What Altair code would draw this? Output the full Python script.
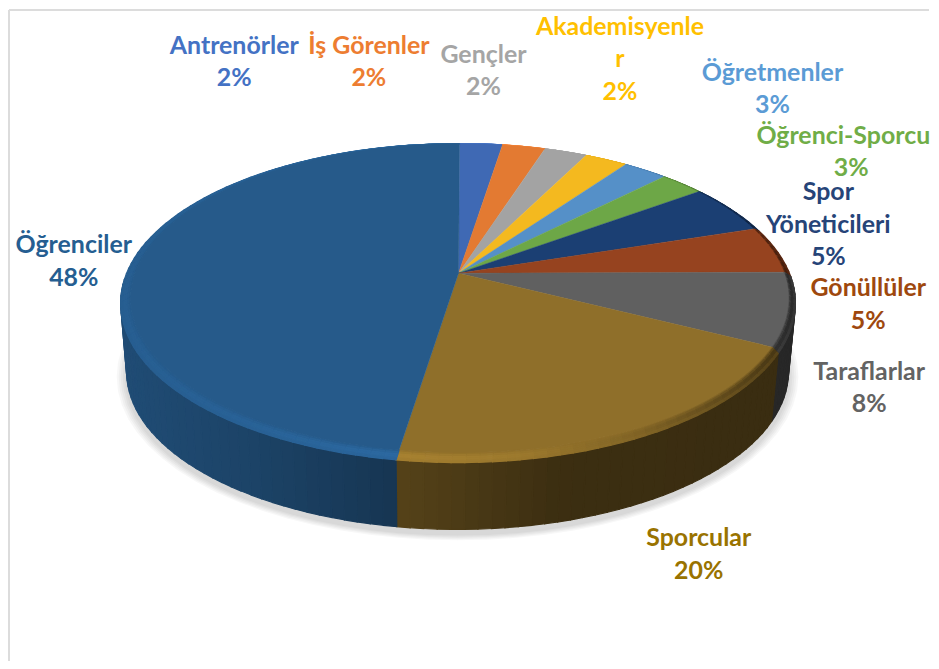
import math
import numpy as np
import pandas as pd
import altair as alt

alt.data_transformers.disable_max_rows()

# ---- data ----
categories = ["Antrenörler", "İş Görenler", "Gençler", "Akademisyenler", "Öğretmenler",
              "Öğrenci-Sporcu", "Spor Yöneticileri", "Gönüllüler", "Taraflarlar", "Sporcular", "Öğrenciler"]
values = [2.45, 2.45, 2.45, 2.45, 2.55, 2.55, 5.1, 4.9, 7.6, 20.0, 47.5]
face_colors = ["#3f69b4", "#e37a32", "#a3a3a3", "#f4b91f", "#5590c8", "#6da747",
               "#1b3f73", "#96431f", "#606060", "#8f6f2a", "#265a8a"]
label_colors = ["#4472c4", "#ed7d31", "#a5a5a5", "#ffc000", "#5b9bd5", "#70ad47",
                "#264478", "#9e480e", "#636363", "#997300", "#255e91"]
label_lines = [["Antrenörler"], ["İş Görenler"], ["Gençler"], ["Akademisyenle", "r"], ["Öğretmenler"],
               ["Öğrenci-Sporcu"], ["Spor", "Yöneticileri"], ["Gönüllüler"], ["Taraflarlar"], ["Sporcular"], ["Öğrenciler"]]
label_x = [234, 369, 484, 621, 774, 845, 830, 870, 871, 700, 73]
pct_x = [234, 369, 484, 621, 774, 853, 830, 870, 871, 700, 73]
label_y = [44, 44, 53, 25, 71, 134, 191, 287, 371, 538, 244]
line_gap = 32.5

# ---- 3D pie projection (pixel space of the picture) ----
W, H = 923, 653
APEX = (459, 272)
INNER = (460, 297, 330, 155)
OUTER = (458.5, 302, 338.5, 160)
LOWER = (458, 371, 332, 158)
a = (INNER[1] - APEX[1]) / INNER[3]


def disc(theta):
    sx, cy = math.sin(theta), math.cos(theta)
    d = 1 + a * cy
    return sx * math.sqrt(1 - a * a) / d, (cy + a) / d


def on(e, XY):
    return e[0] + e[2] * XY[0], e[1] - e[3] * XY[1]


def lerp(p, q, t):
    return p[0] + (q[0] - p[0]) * t, p[1] + (q[1] - p[1]) * t


def shade(c, f):
    r, g, b = [int(c[i:i + 2], 16) for i in (1, 3, 5)]
    return "#%02x%02x%02x" % tuple(min(255, int(v * f)) for v in (r, g, b))


def poly_rows(rows, pid, pts, color):
    for i, (x, y) in enumerate(list(pts) + [pts[0]]):
        rows.append({"x": x, "y": y, "o": i, "id": pid, "c": color})


shadow, side, bevel, face = [], [], [], []
WT = [0.3, 0.7, 1.0, 1.0, 0.8]
TS = [0, 0.2, 0.4, 0.6, 0.8, 1.0]
start = 0.0
pid = 0
for val, col in zip(values, face_colors):
    t0 = start * 2 * math.pi / 100
    t1 = (start + val) * 2 * math.pi / 100
    start += val
    n = max(2, int(math.degrees(t1 - t0) / 2))
    th = [t0 + (t1 - t0) * i / n for i in range(n + 1)]
    pts = [disc(t) for t in th]
    poly_rows(face, pid, [APEX] + [on(INNER, p) for p in pts], col)
    pid += 1
    for p, q in zip(pts[:-1], pts[1:]):
        ox0, ox1 = on(OUTER, p), on(OUTER, q)
        ix0, ix1 = on(INNER, p), on(INNER, q)
        mx = (ox0[0] + ox1[0]) / 2
        g = float(np.interp(mx, [120, 250, 400, 520, 640, 720, 800], [1.06, 1.1, 1.17, 1.1, 0.9, 0.7, 0.45]))
        for k in range(5):
            quad = [lerp(ix0, ox0, TS[k]), lerp(ix1, ox1, TS[k]),
                    lerp(ix1, ox1, TS[k + 1]), lerp(ix0, ox0, TS[k + 1])]
            poly_rows(bevel, pid, quad, shade(col, 1 + (g - 1) * WT[k]))
            pid += 1
        if (p[1] + q[1]) / 2 < 0.15:
            f = float(np.interp(mx, [120, 250, 397, 560, 939], [0.85, 0.75, 0.6, 0.42, 0.40]))
            poly_rows(side, pid, [ox0, ox1, on(LOWER, q), on(LOWER, p)], shade(col, f))
            pid += 1

for grow in [10, 8, 6, 4, 2]:
    e = (LOWER[0], LOWER[1] + 5, LOWER[2] + grow, LOWER[3] + grow * 0.6)
    for i in range(73):
        t = i * 5 * math.pi / 180
        shadow.append({"x": e[0] + e[2] * math.sin(t), "y": e[1] - e[3] * math.cos(t),
                       "o": i, "id": grow, "c": "#000000"})

X = alt.X("x:Q", scale=alt.Scale(domain=[8, 8 + W]), axis=None)
Y = alt.Y("y:Q", scale=alt.Scale(domain=[8 + H, 8]), axis=None)


def polys(rows, sw=1.2):
    return alt.Chart(pd.DataFrame(rows)).mark_line(strokeWidth=sw).encode(
        x=X, y=Y, order="o:Q", detail="id:N",
        color=alt.Color("c:N", scale=None),
        fill=alt.Fill("c:N", scale=None),
    )


txt = []
for lines, col, lx, px, ly, v in zip(label_lines, label_colors, label_x, pct_x, label_y, values):
    for i, s in enumerate(lines):
        txt.append({"x": lx, "y": ly + i * line_gap, "t": s, "c": col})
    txt.append({"x": px, "y": ly + len(lines) * line_gap, "t": f"{round(v)}%", "c": col})

labels = alt.Chart(pd.DataFrame(txt)).mark_text(
    font="Lato", fontWeight="bold", fontSize=25, align="center", baseline="middle"
).encode(x=X, y=Y, text="t:N", color=alt.Color("c:N", scale=None))

frame = pd.DataFrame([
    {"x": 8, "y": 8, "x2": 8, "y2": 661},
    {"x": 8, "y": 8, "x2": 931, "y2": 8},
])
border = alt.Chart(frame).mark_rule(color="#dcdcdc", strokeWidth=2).encode(x=X, y=Y, x2="x2:Q", y2="y2:Q")

shadow_layer = alt.Chart(pd.DataFrame(shadow)).mark_line(strokeWidth=0, fillOpacity=0.03).encode(
    x=X, y=Y, order="o:Q", detail="id:N", fill=alt.Fill("c:N", scale=None))

chart = alt.layer(
    border, shadow_layer, polys(side), polys(bevel), polys(face, sw=0.4), labels
).properties(width=W, height=H, padding=0, background="white").configure_view(stroke=None)

chart.save("out.html", embed_options={"renderer": "svg", "actions": False})
